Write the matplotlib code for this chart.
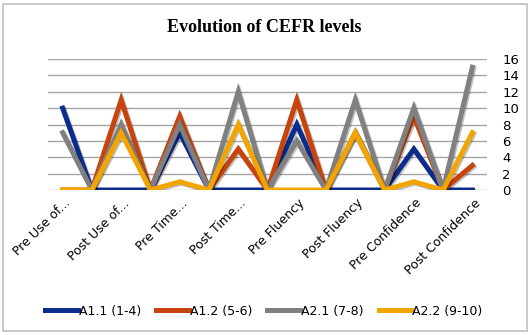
import matplotlib
matplotlib.use("Agg")
import matplotlib.pyplot as plt
import matplotlib.patheffects as pe
import matplotlib.transforms as mtransforms
from matplotlib.patches import Rectangle

# x categories (labels only on every other point)
labels = ['Pre Use of...', 'Post Use of...', 'Pre Time...', 'Post Time...',
          'Pre Fluency', 'Post Fluency', 'Pre Confidence', 'Post Confidence']

a11 = [10, 0, 0, 0, 7, 0, 0, 0, 8, 0, 0, 0, 5, 0, 0]
a12 = [0, 0, 11, 0, 9, 0, 5, 0, 11, 0, 7, 0, 9, 0, 3]
a21 = [7, 0, 8, 0, 8, 0, 12, 0, 6, 0, 11, 0, 10, 0, 15]
a22 = [0, 0, 7, 0, 1, 0, 8, 0, 0, 0, 7, 0, 1, 0, 7]

names = ['A1.1 (1-4)', 'A1.2 (5-6)', 'A2.1 (7-8)', 'A2.2 (9-10)']
colors = ['#0A2C8C', '#C8440E', '#808080', '#F2A500']
series = [a11, a12, a21, a22]

W, H = 531, 335
fig = plt.figure(figsize=(W / 100, H / 100), dpi=100)
fig.patches.append(Rectangle((3 / W, 4 / H), 524 / W, 327 / H, transform=fig.transFigure,
                             fill=False, edgecolor='#BFBFBF', linewidth=1.2))

ax = fig.add_axes([48 / W, 1 - 190 / H, 439 / W, 131 / H])
x = list(range(len(a11)))
shadow = [pe.SimpleLineShadow(offset=(1, -1), alpha=0.25, shadow_color='black'), pe.Normal()]
for ys, c, n in zip(series, colors, names):
    ax.plot(x, ys, color=c, lw=3.6, label=n, solid_joinstyle='miter',
            path_effects=shadow)

ax.set_xlim(-0.5, len(a11) - 0.5)
ax.set_ylim(0, 16)
ax.set_yticks(range(0, 17, 2))
ax.yaxis.tick_right()
ax.grid(axis='y', color='#A6A6A6', lw=1)
ax.set_axisbelow(True)
for s in ax.spines.values():
    s.set_visible(False)
ax.tick_params(axis='y', length=0, pad=11, labelsize=9.5)
ax.set_xticks(x[::2])
ax.set_xticklabels(labels, rotation=45, ha='right', va='center', rotation_mode='anchor',
                   fontsize=9)
ax.tick_params(axis='x', length=0, pad=8)
shift = mtransforms.ScaledTranslation(6 / 100, 0, fig.dpi_scale_trans)
for t in ax.get_xticklabels():
    t.set_transform(t.get_transform() + shift)

fig.text(0.497, 1 - 27 / H, 'Evolution of CEFR levels', ha='center', va='center',
         fontsize=13, fontweight='bold', family='Liberation Serif')

leg = fig.legend(loc='center', bbox_to_anchor=(0.497, 1 - 311 / H), ncol=4, frameon=False,
                 fontsize=9, handlelength=2.6, handletextpad=0.1, columnspacing=1.2)
for h in leg.legend_handles:
    h.set_path_effects([])

fig.savefig('out.png', dpi=100)
